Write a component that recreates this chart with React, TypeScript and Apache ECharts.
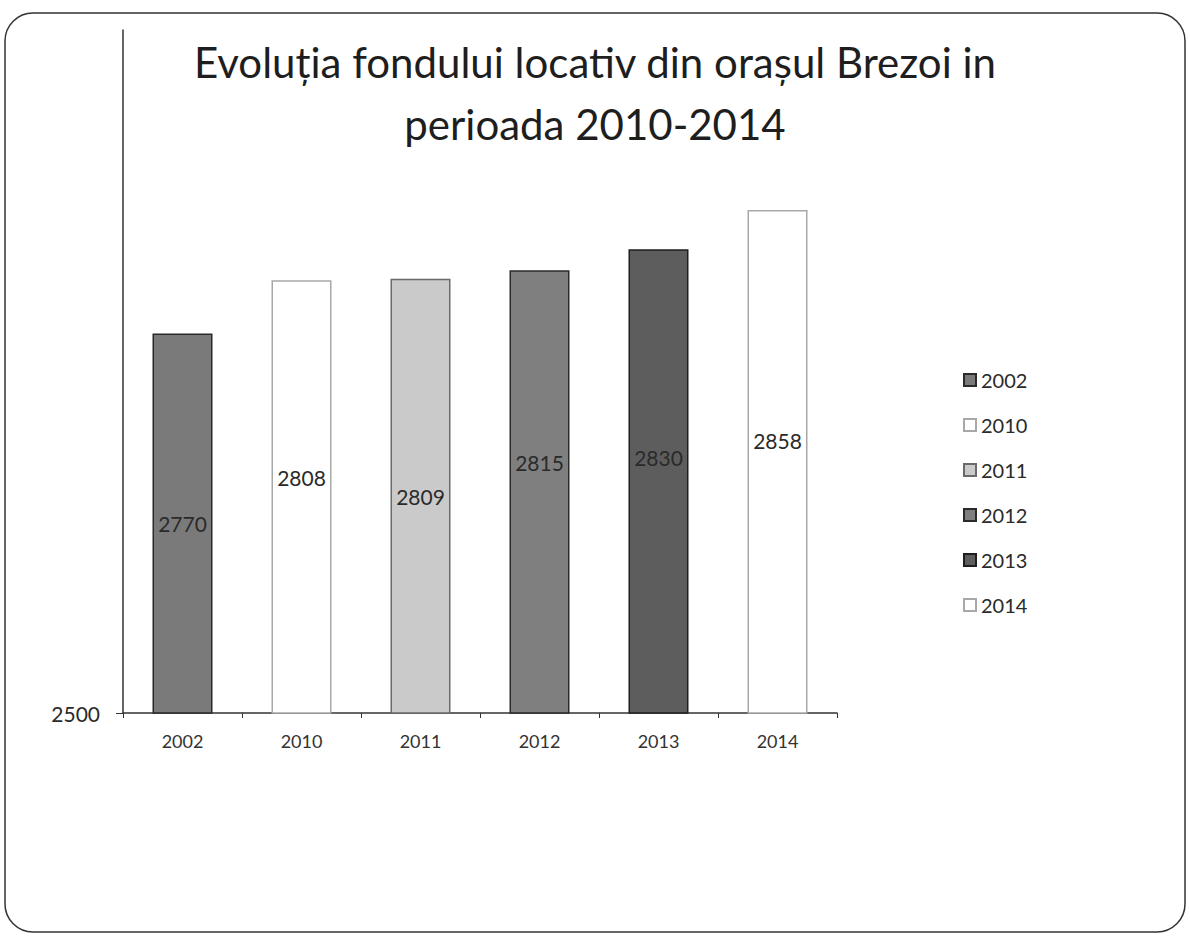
import React, { useEffect, useRef } from "react";
import * as echarts from "echarts";

const categories = ["2002", "2010", "2011", "2012", "2013", "2014"];
const values = [2770, 2808, 2809, 2815, 2830, 2858];
const titleText = "Evoluția fondului locativ din orașul Brezoi in\nperioada 2010-2014";

const fills = ["#7a7a7a", "#ffffff", "#cacaca", "#7f7f7f", "#5d5d5d", "#ffffff"];
const borders = ["#2a2a2a", "#a8a8a8", "#6a6a6a", "#2a2a2a", "#1e1e1e", "#a8a8a8"];
const labelOffsets = [[0, 0], [0, -19], [0, 0], [0, -30], [0, -24], [0, -21]];

const FONT = "Lato, 'Open Sans', sans-serif";

export default function App() {
  const ref = useRef<HTMLDivElement>(null);
  useEffect(() => {
    document.body.style.margin = "0";
    const chart = echarts.init(ref.current!, null, { renderer: "svg" });
    const series = categories.map((name, i) => ({
      name,
      type: "bar",
      barWidth: 60,
      barGap: "-100%",
      data: values.map((v, j) => (j === i ? v : null)),
      itemStyle: { color: fills[i], borderColor: borders[i], borderWidth: 1.5 },
      label: {
        show: true,
        position: "inside",
        offset: labelOffsets[i],
        color: "#2a2a2a",
        fontFamily: FONT,
        fontSize: 21,
      },
    }));
    chart.setOption({
      animation: false,
      backgroundColor: "#ffffff",
      title: {
        text: titleText,
        left: "center",
        top: 26,
        textStyle: {
          fontFamily: FONT,
          fontSize: 42,
          fontWeight: "normal",
          color: "#1e1e1e",
          lineHeight: 62,
        },
      },
      legend: {
        orient: "vertical",
        left: 958,
        top: 365,
        itemWidth: 12,
        itemHeight: 12,
        itemGap: 25,
        icon: "rect",
        textStyle: { fontFamily: FONT, fontSize: 20, color: "#2a2a2a", lineHeight: 20 },
        data: categories,
      },
      grid: { left: 123, right: 353, top: 30, bottom: 224 },
      xAxis: {
        type: "category",
        data: categories,
        axisLine: { lineStyle: { color: "#333", width: 1.5 } },
        axisTick: { show: true, length: 5, lineStyle: { color: "#333" } },
        axisLabel: { color: "#333", fontFamily: FONT, fontSize: 18, margin: 19 },
      },
      yAxis: {
        type: "value",
        min: 2500,
        max: 2986,
        interval: 500,
        axisLine: { show: true, lineStyle: { color: "#333", width: 1.5 } },
        axisTick: { show: true, length: 7, lineStyle: { color: "#333" } },
        axisLabel: {
          color: "#2a2a2a",
          fontFamily: FONT,
          fontSize: 21,
          margin: 23,
          showMaxLabel: false,
          formatter: (v: number) => String(v),
        },
        splitLine: { show: false },
      },
      graphic: [
        {
          type: "rect",
          shape: { x: 5, y: 13, width: 1180, height: 919, r: 28 },
          style: { fill: "none", stroke: "#333", lineWidth: 1.5 },
          silent: true,
        },
      ],
      series,
    });
    return () => chart.dispose();
  }, []);
  return <div ref={ref} style={{ position: "fixed", left: 0, top: 0, width: 1190, height: 937 }} />;
}
